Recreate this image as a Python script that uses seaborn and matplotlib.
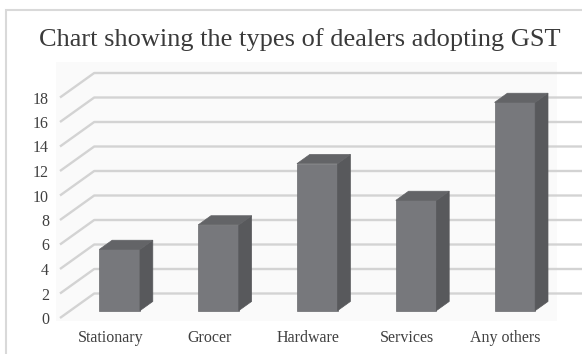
import matplotlib
matplotlib.use("Agg")
import matplotlib.pyplot as plt
import matplotlib.transforms as mtransforms
from matplotlib.patches import Polygon, Rectangle
import seaborn as sns
import pandas as pd

# Data
categories = ["Stationary", "Grocer", "Hardware", "Services", "Any others"]
dealers = [5, 7, 12, 9, 17]
y_ticks = [0, 2, 4, 6, 8, 10, 12, 14, 16, 18]

title = "Chart showing the types of dealers adopting GST"

sns.set_style("white")
plt.rcParams["font.family"] = ["Liberation Serif", "DejaVu Serif"]

W, H, DPI = 582, 354, 100
fig = plt.figure(figsize=(W / DPI, H / DPI), dpi=DPI)
fig.patch.set_facecolor("white")

# Chart frame (runs off the right and bottom edges) and plot-area tint
fig.add_artist(Rectangle((6 / W, -0.2), 1.2, 1.2 - 10 / H,
                         transform=fig.transFigure, fill=False,
                         edgecolor="#d9d9d9", linewidth=1.5))
fig.add_artist(Rectangle((56 / W, (H - 321) / H), (557 - 56) / W, (321 - 62) / H,
                         transform=fig.transFigure, facecolor="#fafafa",
                         edgecolor="none", zorder=-1))

# Axes = front plane of the 3-D floor
left_px, right_px, bottom_px, top_px = 60, 554, 318, 73
ax = fig.add_axes([left_px / W, (H - bottom_px) / H,
                   (right_px - left_px) / W, (bottom_px - top_px) / H])
ax.set_facecolor("none")

slot_px = (522 - left_px) / len(categories)
xmax = -0.5 + (right_px - left_px) / slot_px
ax.set_xlim(-0.5, xmax)
ax.set_ylim(0, 20)

# depth of the back wall in data units
depth_dx = 32 / slot_px
depth_dy = 2.0

# perspective gridlines: diagonal on the floor side, then along the back wall
for v in y_ticks:
    ax.plot([-0.5, -0.5 + depth_dx, xmax], [v, v + depth_dy, v + depth_dy],
            color="#d3d3d3", lw=1.7, zorder=1, clip_on=False,
            solid_capstyle="butt")

df = pd.DataFrame({"category": categories, "dealers": dealers})
front_c, side_c, top_c = "#77787c", "#58595c", "#636467"
sns.barplot(data=df, x="category", y="dealers", width=0.411, color=front_c,
            saturation=1, ax=ax, zorder=3, edgecolor="#6a6b6e", linewidth=0.5)

# bars sit 30% of the way into the depth; their own depth is 37.5%
d0, dd = 0.30, 0.375
shift = mtransforms.Affine2D().translate(d0 * depth_dx, d0 * depth_dy) + ax.transData
bdx, bdy = dd * depth_dx, dd * depth_dy
for p in ax.patches:
    p.set_transform(shift)
    x, w, h = p.get_x(), p.get_width(), p.get_height()
    side = Polygon([(x + w, 0), (x + w + bdx, bdy), (x + w + bdx, h + bdy), (x + w, h)],
                   closed=True, facecolor=side_c, edgecolor=side_c, lw=0.5,
                   transform=shift, zorder=3)
    top = Polygon([(x, h), (x + bdx, h + bdy), (x + w + bdx, h + bdy), (x + w, h)],
                  closed=True, facecolor=top_c, edgecolor=top_c, lw=0.5,
                  transform=shift, zorder=3)
    ax.add_patch(side)
    ax.add_patch(top)

ax.set_yticks(y_ticks)
ax.set_xlabel("")
ax.set_ylabel("")
ax.tick_params(axis="both", length=0, labelsize=11.5, labelcolor="#404040")
ax.tick_params(axis="y", pad=8)
ax.tick_params(axis="x", pad=9)
for lab in ax.get_xticklabels():
    lab.set_transform(lab.get_transform() +
                      mtransforms.ScaledTranslation(1 / DPI, 0, fig.dpi_scale_trans))
sns.despine(ax=ax, left=True, bottom=True)

fig.text(300 / W, 1 - 40 / H, title, ha="center", va="center",
         fontsize=19, color="#3a3a3a")

fig.savefig("out.png", dpi=DPI)
